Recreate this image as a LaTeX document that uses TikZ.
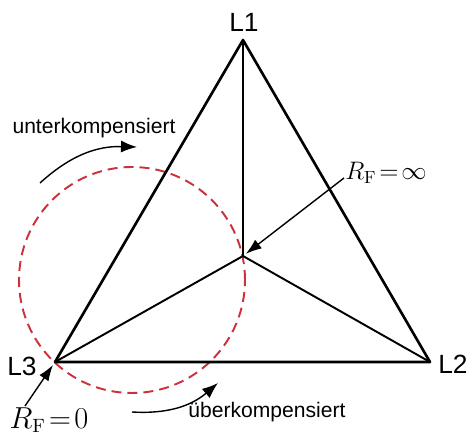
\documentclass[tikz,border=0pt]{standalone}
\usepackage[no-math]{fontspec}
\setmainfont{Liberation Sans}
\usetikzlibrary{arrows.meta}
\definecolor{dashred}{RGB}{204,48,58}
\begin{document}
\begin{tikzpicture}
\useasboundingbox (0,0) rectangle (9.4,8.74);
\coordinate (L1) at (4.86,7.94);
\coordinate (L2) at (8.60,1.50);
\coordinate (L3) at (1.10,1.50);
\coordinate (N) at (4.86,3.62);
\coordinate (M) at (2.64,3.14);
\draw[dashred, line width=1.1pt, dash pattern=on 0.2cm off 0.12cm] (M) circle(2.26);
\draw[line width=1.5pt, line join=round] (L1) -- (L2) -- (L3) -- cycle;
\draw[line width=1.1pt] (L1) -- (N) (L2) -- (N) (L3) -- (N);
\node[font=\fontsize{15}{18}\selectfont] (l1) at (4.88,8.30) {L1};
\node[font=\fontsize{15}{18}\selectfont] (l2) at (9.06,1.46) {L2};
\node[font=\fontsize{15}{18}\selectfont] (l3) at (0.44,1.42) {L3};
\node[font=\fontsize{12}{14}\selectfont] (unter) at (1.88,6.18) {unterkompensiert};
\node[font=\fontsize{12}{14}\selectfont] (ueber) at (5.34,0.50) {überkompensiert};
\node[font=\fontsize{14}{16}\selectfont] (rfinf) at (7.72,5.28) {$R_{\mathrm{F}}\!=\!\infty$};
\node[font=\fontsize{16}{18}\selectfont] (rfnull) at (0.98,0.34) {$R_{\mathrm{F}}\!=\!0$};
\coordinate (a1) at (0.80,5.08);
\coordinate (a2) at (2.74,5.80);
\coordinate (b1) at (2.64,0.50);
\coordinate (b2) at (4.36,1.08);
\coordinate (c1) at (6.88,5.18);
\coordinate (d1) at (0.50,0.62);
\draw[-{Latex[length=3.2mm,width=2.4mm]}, line width=0.8pt] (a1) to[bend left=22] (a2);
\draw[-{Latex[length=3.2mm,width=2.4mm]}, line width=0.8pt] (b1) to[bend right=22] (b2);
\draw[-{Latex[length=3.2mm,width=2.2mm]}, line width=0.8pt, shorten >=2pt] (c1) -- (N);
\draw[-{Latex[length=3.2mm,width=2.2mm]}, line width=0.8pt, shorten >=2pt] (d1) -- (L3);
\end{tikzpicture}
\end{document}
